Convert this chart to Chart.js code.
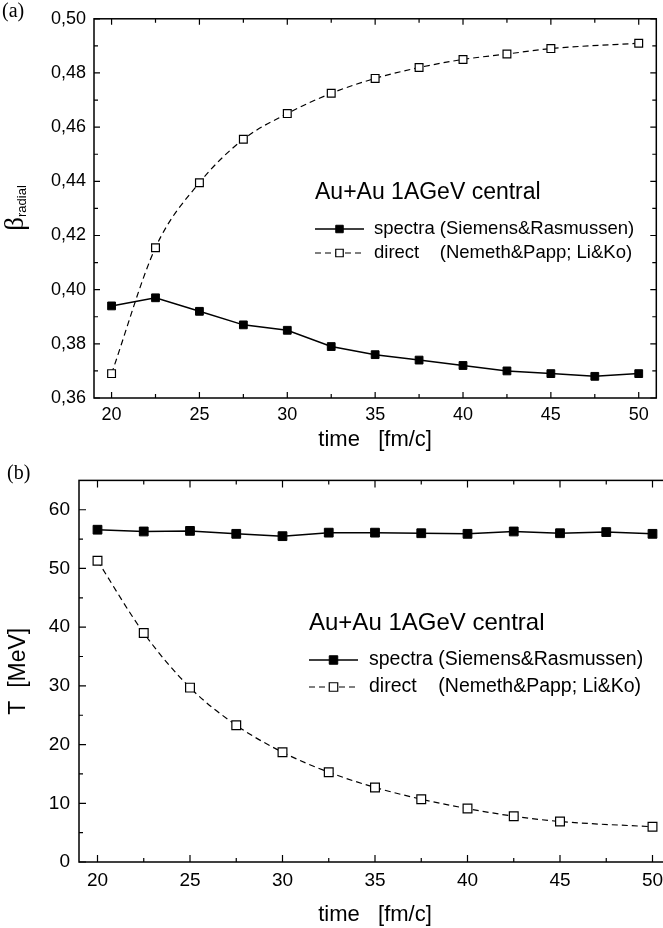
<!DOCTYPE html>
<html>
<head>
<meta charset="utf-8">
<script src="https://cdn.jsdelivr.net/npm/chart.js@4.4.0/dist/chart.umd.min.js"></script>
<style>
  html, body { margin: 0; padding: 0; background: #fff; }
  #wrap { position: relative; width: 663px; height: 928px; overflow: hidden; }
  #c1 { position: absolute; left: 0; top: 0; }
  #c2 { position: absolute; left: 0; top: 460px; }
  .panel { position: absolute; font-family: "Liberation Serif", serif; font-size: 20px; color: #000; }
</style>
</head>
<body>
<div id="wrap">
  <canvas id="c1" width="663" height="460"></canvas>
  <canvas id="c2" width="680" height="468"></canvas>
  <div class="panel" style="left:2px; top:-1px">(a)</div>
  <div class="panel" style="left:7px; top:461px">(b)</div>
</div>
<script>
const FONT = '"Liberation Sans", Arial, sans-serif';

// time points (fm/c)
const timeSpectra = [20, 22.5, 25, 27.5, 30, 32.5, 35, 37.5, 40, 42.5, 45, 47.5, 50];
const timeDirect = [20, 22.5, 25, 27.5, 30, 32.5, 35, 37.5, 40, 42.5, 45, 50];

// (a) radial flow velocity
const betaSpectra = [0.394, 0.397, 0.392, 0.387, 0.385, 0.379, 0.376, 0.374, 0.372, 0.370, 0.369, 0.368, 0.369];
const betaDirect = [0.369, 0.4155, 0.4395, 0.4555, 0.465, 0.4725, 0.478, 0.482, 0.485, 0.487, 0.489, 0.491];

// (b) temperature (MeV)
const tempSpectra = [56.6, 56.3, 56.4, 55.9, 55.5, 56.1, 56.1, 56.0, 55.9, 56.3, 56.0, 56.2, 55.9];
const tempDirect = [51.3, 39.0, 29.7, 23.3, 18.7, 15.3, 12.7, 10.7, 9.1, 7.8, 6.9, 6.0];

// ticks
const xTicks = [20, 25, 30, 35, 40, 45, 50];
const xMinor = [22.5, 27.5, 32.5, 37.5, 42.5, 47.5];
const betaTicks = [0.36, 0.38, 0.40, 0.42, 0.44, 0.46, 0.48, 0.50];
const betaMinor = [0.37, 0.39, 0.41, 0.43, 0.45, 0.47, 0.49];
const tempTicks = [0, 10, 20, 30, 40, 50, 60];
const tempMinor = [5, 15, 25, 35, 45, 55];

const seriesNames = ['spectra', 'direct'];
const seriesRefs = ['(Siemens&Rasmussen)', '(Nemeth&Papp; Li&Ko)'];
const noteText = 'Au+Au 1AGeV central';

const pts = (xs, ys) => xs.map((x, i) => ({ x, y: ys[i] }));

// frame with inward ticks on all four sides
const framePlugin = {
  id: 'frame',
  afterDraw(chart, args, o) {
    const { ctx, chartArea: a, scales: { x, y } } = chart;
    ctx.save();
    ctx.strokeStyle = '#000';
    ctx.lineWidth = 1.5;
    ctx.strokeRect(a.left, a.top, a.right - a.left, a.bottom - a.top);
    ctx.lineWidth = 1.2;
    ctx.beginPath();
    const xt = (vals, len) => vals.forEach(v => {
      const p = x.getPixelForValue(v);
      ctx.moveTo(p, a.bottom); ctx.lineTo(p, a.bottom - len);
      ctx.moveTo(p, a.top); ctx.lineTo(p, a.top + len);
    });
    const yt = (vals, len) => vals.forEach(v => {
      const p = y.getPixelForValue(v);
      ctx.moveTo(a.left, p); ctx.lineTo(a.left + len, p);
      ctx.moveTo(a.right, p); ctx.lineTo(a.right - len, p);
    });
    xt(o.xMajor, o.major); xt(o.xMinor, o.minor);
    yt(o.yMajor, o.major); yt(o.yMinor, o.minor);
    ctx.stroke();
    ctx.restore();
  }
};

// annotation + legend inside the plot
const notePlugin = {
  id: 'note',
  afterDraw(chart, args, o) {
    const ctx = chart.ctx;
    ctx.save();
    ctx.fillStyle = '#000';
    ctx.textBaseline = 'middle';
    ctx.font = o.titleSize + 'px ' + FONT;
    ctx.fillText(noteText, o.x, o.titleY);
    ctx.font = o.size + 'px ' + FONT;
    const textX = o.x + o.sample + o.gap;
    const refX = textX + ctx.measureText(seriesNames[0] + ' ').width;
    seriesNames.forEach((name, i) => {
      const ds = chart.data.datasets[i];
      const yy = o.rows[i];
      ctx.save();
      ctx.strokeStyle = '#000';
      ctx.lineWidth = ds.borderWidth;
      ctx.setLineDash(ds.borderDash || []);
      ctx.beginPath();
      ctx.moveTo(o.x, yy); ctx.lineTo(o.x + o.sample, yy);
      ctx.stroke();
      ctx.setLineDash([]);
      ctx.fillStyle = ds.pointBackgroundColor;
      ctx.lineWidth = ds.pointBorderWidth;
      Chart.helpers.drawPoint(ctx, { pointStyle: 'rect', radius: o.marker, rotation: 0, borderWidth: ds.pointBorderWidth }, o.x + o.sample / 2, yy);
      ctx.restore();
      ctx.fillText(name, textX, yy);
      ctx.fillText(seriesRefs[i], refX, yy);
    });
    ctx.restore();
  }
};

// beta_radial axis title (with subscript)
const betaTitlePlugin = {
  id: 'betaTitle',
  afterDraw(chart) {
    const ctx = chart.ctx;
    ctx.save();
    ctx.translate(23, 208);
    ctx.rotate(-Math.PI / 2);
    ctx.fillStyle = '#000';
    ctx.textBaseline = 'alphabetic';
    ctx.font = '27px "Liberation Serif", serif';
    const wb = ctx.measureText('β').width;
    ctx.font = '13px ' + FONT;
    const ws = ctx.measureText('radial').width;
    const x0 = -(wb + ws) / 2;
    ctx.font = '27px "Liberation Serif", serif';
    ctx.fillText('β', x0, 0);
    ctx.font = '13px ' + FONT;
    ctx.fillText('radial', x0 + wb, 3);
    ctx.restore();
  }
};

function lineSets(ys1, ys2, r) {
  return [
    {
      label: seriesNames[0], data: pts(timeSpectra, ys1),
      borderColor: '#000', borderWidth: 1.5, tension: 0,
      pointStyle: 'rect', pointRadius: r, pointBackgroundColor: '#000',
      pointBorderColor: '#000', pointBorderWidth: 1
    },
    {
      label: seriesNames[1], data: pts(timeDirect, ys2),
      borderColor: '#000', borderWidth: 1.2, borderDash: [6, 4],
      cubicInterpolationMode: 'monotone',
      pointStyle: 'rect', pointRadius: r, pointBackgroundColor: '#fff',
      pointBorderColor: '#000', pointBorderWidth: 1.2
    }
  ];
}

function xScale(h, tickSize, tickPad, titlePad) {
  return {
    type: 'linear', min: 19, max: 51,
    afterFit: s => { s.height = h; },
    afterBuildTicks: s => { s.ticks = xTicks.map(v => ({ value: v })); },
    grid: { display: false, drawTicks: false },
    border: { display: false },
    ticks: { padding: tickPad, color: '#000', font: { family: FONT, size: tickSize }, maxRotation: 0 },
    title: { display: true, text: 'time   [fm/c]', color: '#000', font: { family: FONT, size: 22 }, padding: { top: 0, bottom: titlePad } }
  };
}

new Chart(document.getElementById('c1'), {
  type: 'line',
  data: { datasets: lineSets(betaSpectra, betaDirect, 5.5) },
  options: {
    responsive: false, animation: false,
    layout: { padding: { top: 9, right: 1, left: 0, bottom: 0 } },
    plugins: {
      legend: { display: false }, tooltip: { enabled: false },
      frame: { xMajor: xTicks, xMinor: xMinor, yMajor: betaTicks, yMinor: betaMinor, major: 6, minor: 4 },
      note: { x: 315, titleY: 193, titleSize: 23, size: 18.5, rows: [229, 253], sample: 49, gap: 10, marker: 5.3 }
    },
    scales: {
      x: xScale(62, 18, 6, 7),
      y: {
        min: 0.36, max: 0.50,
        afterFit: s => { s.width = 94; },
        afterBuildTicks: s => { s.ticks = betaTicks.map(v => ({ value: v })); },
        grid: { display: false, drawTicks: false },
        border: { display: false },
        ticks: { padding: 8, color: '#000', font: { family: FONT, size: 18 }, callback: v => v.toFixed(2).replace('.', ',') }
      }
    }
  },
  plugins: [framePlugin, notePlugin, betaTitlePlugin]
});

new Chart(document.getElementById('c2'), {
  type: 'line',
  data: { datasets: lineSets(tempSpectra, tempDirect, 6.2) },
  options: {
    responsive: false, animation: false,
    layout: { padding: { top: 6, right: 9, left: 0, bottom: 0 } },
    plugins: {
      legend: { display: false }, tooltip: { enabled: false },
      frame: { xMajor: xTicks, xMinor: xMinor, yMajor: tempTicks, yMinor: tempMinor, major: 7, minor: 4 },
      note: { x: 309, titleY: 163, titleSize: 24, size: 19.5, rows: [200, 227], sample: 49, gap: 11, marker: 6 }
    },
    scales: {
      x: xScale(66, 19, 7, 0),
      y: {
        min: 0, max: 65,
        afterFit: s => { s.width = 79; },
        afterBuildTicks: s => { s.ticks = tempTicks.map(v => ({ value: v })); },
        grid: { display: false, drawTicks: false },
        border: { display: false },
        ticks: { padding: 9, color: '#000', font: { family: FONT, size: 19 } },
        title: { display: true, text: 'T  [MeV]', color: '#000', font: { family: FONT, size: 23 }, padding: { top: 5, bottom: 0 } }
      }
    }
  },
  plugins: [framePlugin, notePlugin]
});
</script>
</body>
</html>
